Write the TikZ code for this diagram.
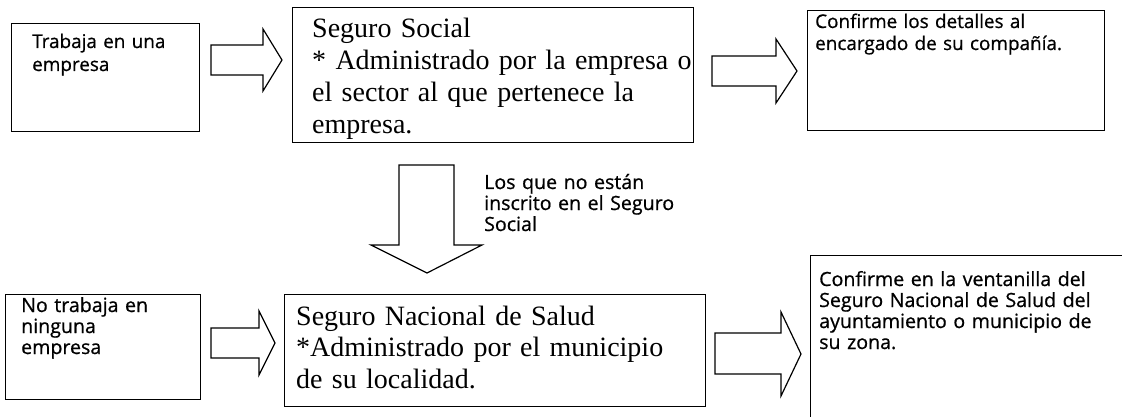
\documentclass[tikz,border=0pt]{standalone}
\usepackage{fontspec}
\setmainfont{Liberation Serif}
\newfontfamily\sansf[FakeBold=0.7]{Open Sans}
\begin{document}
\begin{tikzpicture}[x=1pt,y=-1pt,
  box/.style={draw,line width=1.2pt,rectangle,inner sep=0pt,anchor=north west},
  serift/.style={font=\fontsize{28}{31.7}\selectfont,anchor=base west,inner sep=0pt,align=left,text width=420pt},
  sanst/.style={font=\sansf\fontsize{19.6}{21}\selectfont,anchor=base west,inner sep=0pt,align=left,text width=320pt},
  sanss/.style={sanst,font=\sansf\fontsize{18.9}{22}\selectfont},
  blockarrow/.style={draw,line width=1.2pt,fill=white,line join=miter}]
\useasboundingbox (0,0) rectangle (1122,417);
\fill[white] (0,0) rectangle (1122,417);
\clip (0,0) rectangle (1122,417);
% boxes
\node[box,minimum width=188pt,minimum height=108pt] (b1) at (11,23) {};
\node[box,minimum width=401pt,minimum height=135pt] (b2) at (292,7) {};
\node[box,minimum width=297pt,minimum height=120pt] (b3) at (807,10) {};
\node[box,minimum width=195pt,minimum height=105pt] (b4) at (5,294) {};
\node[box,minimum width=421pt,minimum height=112pt] (b5) at (284,294) {};
\node[box,minimum width=330pt,minimum height=180pt] (b6) at (810,255) {};
% texts
\node[sanss] (t1) at (32,48) {Trabaja en una\\[1pt]empresa};
\node[serift] (t2) at (312,38) {Seguro Social\\\relax* Administrado por la empresa o\\el sector al que pertenece la\\empresa.};
\node[sanss] (t3) at (815,28) {Confirme los detalles al\\encargado de su compañía.};
\node[sanst] (t4) at (21,312) {No trabaja en\\ninguna\\empresa};
\node[serift] (t5) at (296,325) {Seguro Nacional de Salud\\\relax*Administrado por el municipio\\de su localidad.};
\node[sanst] (t6) at (819,286) {Confirme en la ventanilla del\\Seguro Nacional de Salud del\\ayuntamiento o municipio de\\su zona.};
\node[sanst] (t7) at (484,189) {Los que no están\\inscrito en el Seguro\\Social};
% block arrows
\draw[blockarrow] (211,45)--(263,45)--(263,29)--(282,60)--(263,91)--(263,75)--(211,75)--cycle;
\draw[blockarrow] (712,56)--(776,56)--(776,39)--(797,71)--(776,103)--(776,86)--(712,86)--cycle;
\draw[blockarrow] (399,165)--(454,165)--(454,245)--(482,245)--(427,273)--(371,245)--(399,245)--cycle;
\draw[blockarrow] (211,328)--(259,328)--(259,311)--(275,343)--(259,375)--(259,358)--(211,358)--cycle;
\draw[blockarrow] (715,333)--(781,333)--(781,312)--(801,354)--(781,396)--(781,374)--(715,374)--cycle;
\end{tikzpicture}
\end{document}
